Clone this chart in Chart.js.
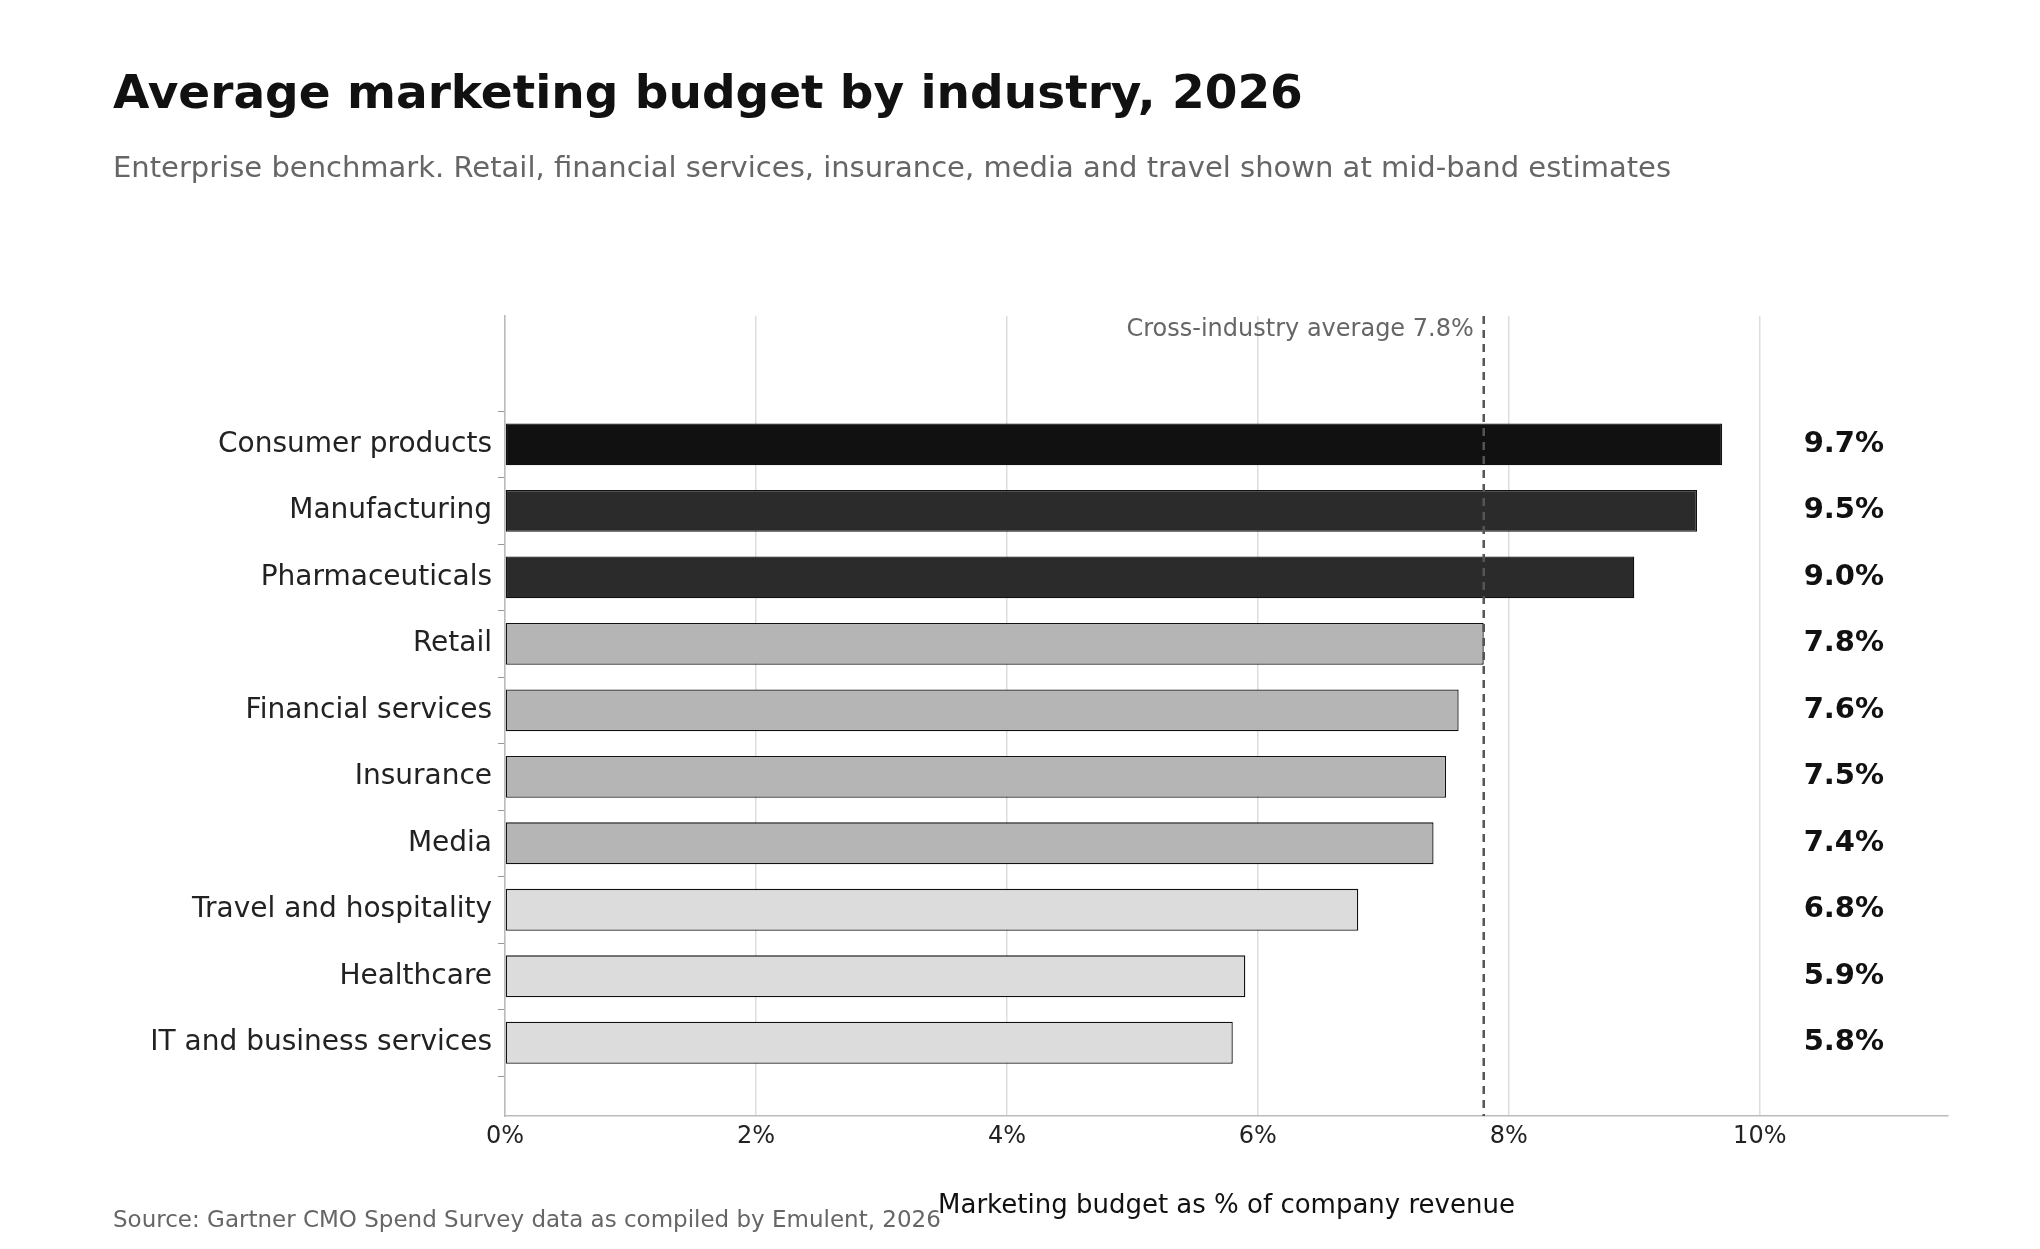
<!DOCTYPE html>
<html>
<head>
<meta charset="utf-8">
<script src="https://cdn.jsdelivr.net/npm/chart.js@4"></script>
<style>
  body { margin: 0; background: #fff; }
  canvas { display: block; }
</style>
</head>
<body>
<canvas id="chart" width="2040" height="1249"></canvas>
<script>
const categories = ['Consumer products', 'Manufacturing', 'Pharmaceuticals', 'Retail', 'Financial services',
  'Insurance', 'Media', 'Travel and hospitality', 'Healthcare', 'IT and business services'];
const budgets = [9.7, 9.5, 9.0, 7.8, 7.6, 7.5, 7.4, 6.8, 5.9, 5.8];
const barColors = ['#111111', '#2b2b2b', '#2b2b2b', '#b5b5b5', '#b5b5b5', '#b5b5b5', '#b5b5b5', '#dcdcdc', '#dcdcdc', '#dcdcdc'];
const xTicks = [0, 2, 4, 6, 8, 10];
const averageValue = 7.8;

const FONT = "'DejaVu Sans', sans-serif";

const textPlugin = {
  id: 'texts',
  afterDraw(chart) {
    const ctx = chart.ctx;
    const xs = chart.scales.x, ys = chart.scales.y;
    const area = chart.chartArea;
    ctx.save();
    // title
    ctx.textAlign = 'left';
    ctx.textBaseline = 'alphabetic';
    ctx.fillStyle = '#111';
    ctx.font = 'bold 47px ' + FONT;
    ctx.fillText('Average marketing budget by industry, 2026', 113, 108);
    ctx.fillStyle = '#666';
    ctx.font = '29px ' + FONT;
    ctx.fillText('Enterprise benchmark. Retail, financial services, insurance, media and travel shown at mid-band estimates', 113, 177);
    ctx.font = '23px ' + FONT;
    ctx.fillText('Source: Gartner CMO Spend Survey data as compiled by Emulent, 2026', 113, 1227);

    // average line
    const ax = xs.getPixelForValue(averageValue);
    ctx.strokeStyle = '#555';
    ctx.lineWidth = 2.5;
    ctx.setLineDash([8, 6]);
    ctx.beginPath();
    ctx.moveTo(ax, area.top);
    ctx.lineTo(ax, area.bottom);
    ctx.stroke();
    ctx.setLineDash([]);
    ctx.textAlign = 'right';
    ctx.textBaseline = 'middle';
    ctx.fillStyle = '#666';
    ctx.font = '24px ' + FONT;
    ctx.fillText('Cross-industry average ' + averageValue.toFixed(1) + '%', ax - 10, area.top + 14);

    // value labels
    ctx.textAlign = 'center';
    ctx.fillStyle = '#111';
    ctx.font = 'bold 29px ' + FONT;
    budgets.forEach((v, i) => {
      ctx.fillText(v.toFixed(1) + '%', xs.getPixelForValue(10.67), ys.getPixelForValue(i));
    });
    ctx.restore();
  }
};

new Chart(document.getElementById('chart'), {
  type: 'bar',
  data: {
    datasets: [{
      data: budgets.map((v, i) => ({ x: v, y: i })),
      backgroundColor: barColors,
      borderColor: '#111',
      borderWidth: 1.3,
      borderSkipped: false,
      categoryPercentage: 1,
      barPercentage: 0.63
    }]
  },
  options: {
    indexAxis: 'y',
    responsive: false,
    animation: false,
    devicePixelRatio: 1,
    layout: { padding: { top: 316, right: 92, bottom: 23, left: 0 } },
    plugins: { legend: { display: false }, tooltip: { enabled: false } },
    scales: {
      x: {
        type: 'linear',
        min: 0,
        max: 11.5,
        afterFit(s) { s.height = 110; },
        afterBuildTicks(s) { s.ticks = xTicks.map(v => ({ value: v })); },
        ticks: { color: '#222', font: { family: FONT, size: 24 }, padding: 6, callback: v => v + '%' },
        grid: { color: '#dddddd', lineWidth: 1.5, drawTicks: false },
        border: { display: true, color: '#bbbbbb', width: 1.5 },
        title: { display: true, text: 'Marketing budget as % of company revenue', color: '#111',
          font: { family: FONT, size: 26 }, padding: { top: 22 } }
      },
      y: {
        type: 'linear',
        reverse: true,
        min: -1.33,
        max: 9.5,
        afterFit(s) { s.width = 505; },
        afterBuildTicks(s) { s.ticks = categories.map((c, i) => ({ value: i })); },
        ticks: { color: '#222', font: { family: FONT, size: 28 }, padding: 6, callback: v => categories[v] },
        grid: { display: true, drawOnChartArea: false, color: '#999', tickLength: 7 },
        border: { display: true, color: '#bbbbbb', width: 1.5 }
      }
    }
  },
  plugins: [textPlugin]
});
</script>
</body>
</html>
